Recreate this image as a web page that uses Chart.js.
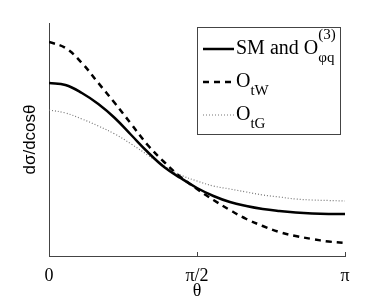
<!DOCTYPE html>
<html>
<head>
<meta charset="utf-8">
<script src="https://cdn.jsdelivr.net/npm/chart.js@4/dist/chart.umd.min.js"></script>
<style>
  body { margin: 0; background: #fff; }
  canvas { display: block; }
</style>
</head>
<body>
<canvas id="chart" width="382" height="302"></canvas>
<script>
// theta in degrees, sampled every 10 deg
var thetaDeg = [0, 10, 20, 30, 40, 50, 60, 70, 80, 90, 100, 110, 120, 130, 140, 150, 160, 170, 180]

// dsigma/dcos(theta), arbitrary units
var smValues  = [17.3, 17.1, 16.3, 15.2, 13.8, 12.1, 10.4, 8.9, 7.8, 6.8, 6.0, 5.4, 5.0, 4.7, 4.5, 4.35, 4.25, 4.2, 4.2]
var otwValues = [21.4, 20.8, 19.3, 17.3, 15.3, 13.2, 11.1, 9.4, 7.9, 6.7, 5.6, 4.6, 3.7, 3.0, 2.4, 2.0, 1.7, 1.45, 1.3]
var otgValues = [14.6, 14.3, 13.7, 13.0, 12.2, 11.2, 10.1, 9.0, 8.1, 7.5, 7.0, 6.7, 6.4, 6.1, 5.9, 5.7, 5.6, 5.55, 5.5]

var tickPos = [0, Math.PI / 2, Math.PI]
var tickLabels = ['0', 'π/2', 'π']

var legendMain = ['SM and O', 'O', 'O']
var legendSup = ['(3)', '', '']
var legendSub = ['φq', 'tW', 'tG']

var serif = '"Liberation Serif", "Times New Roman", serif'
var sans = '"Liberation Sans", Arial, sans-serif'

function pts(vals) {
    return vals.map(function (v, i) { return { x: thetaDeg[i] * Math.PI / 180, y: v } })
}

// legend with sub/superscripts, drawn on the canvas
var boxLegend = {
    id: 'boxLegend',
    afterDraw: function (chart) {
        var ctx = chart.ctx
        var x0 = 197, y0 = 27, w = 143, h = 107
        ctx.save()
        ctx.fillStyle = '#fff'
        ctx.fillRect(x0, y0, w, h)
        ctx.strokeStyle = '#444'
        ctx.lineWidth = 1
        ctx.strokeRect(x0 + 0.5, y0 + 0.5, w, h)
        var rows = [49, 82, 115]
        chart.data.datasets.forEach(function (ds, i) {
            var y = rows[i]
            ctx.strokeStyle = ds.borderColor
            ctx.lineWidth = ds.borderWidth
            ctx.setLineDash(ds.borderDash || [])
            ctx.beginPath()
            ctx.moveTo(203, y)
            ctx.lineTo(234, y)
            ctx.stroke()
            ctx.setLineDash([])

            ctx.fillStyle = '#000'
            ctx.textBaseline = 'alphabetic'
            ctx.font = '20px ' + serif
            var tx = 236
            ctx.fillText(legendMain[i], tx, y + 5)
            var mw = ctx.measureText(legendMain[i]).width
            ctx.font = '15px ' + serif
            if (legendSup[i]) ctx.fillText(legendSup[i], tx + mw, y - 10)
            if (legendSub[i]) ctx.fillText(legendSub[i], tx + mw, y + 13)
        })
        ctx.restore()
    }
}

var ctx = document.getElementById('chart').getContext('2d')
var chart = new Chart(ctx, {
    type: 'line',
    data: {
        datasets: [{
            label: 'SM',
            data: pts(smValues),
            borderColor: '#000',
            borderWidth: 2.5,
            pointRadius: 0,
            tension: 0.4
        }, {
            label: 'OtW',
            data: pts(otwValues),
            borderColor: '#000',
            borderWidth: 2.5,
            borderDash: [6, 5],
            pointRadius: 0,
            tension: 0.4
        }, {
            label: 'OtG',
            data: pts(otgValues),
            borderColor: '#777',
            borderWidth: 1.2,
            borderDash: [1, 2],
            pointRadius: 0,
            tension: 0.4
        }]
    },
    options: {
        responsive: false,
        devicePixelRatio: 1,
        animation: false,
        layout: { padding: { top: 23, right: 37, left: 0, bottom: 0 } },
        plugins: { legend: { display: false }, tooltip: { enabled: false } },
        scales: {
            x: {
                type: 'linear',
                min: 0,
                max: Math.PI,
                afterBuildTicks: function (s) { s.ticks = tickPos.map(function (v) { return { value: v } }) },
                afterFit: function (s) { s.height = 46 },
                ticks: {
                    color: '#000',
                    padding: 13,
                    font: { family: serif, size: 18 },
                    maxRotation: 0,
                    callback: function (v, i) { return tickLabels[i] }
                },
                grid: { drawOnChartArea: false, drawTicks: true, tickLength: -4, color: '#444' },
                border: { color: '#444' },
                title: { display: true, text: 'θ', color: '#000', font: { family: serif, size: 18 }, padding: 0 }
            },
            y: {
                min: 0,
                max: 23.3,
                afterFit: function (s) { s.width = 49 },
                ticks: { display: false },
                grid: { display: false },
                border: { color: '#444' },
                title: { display: true, text: 'dσ/dcosθ', color: '#000', font: { family: sans, size: 17 }, padding: { top: 20 } }
            }
        }
    },
    plugins: [boxLegend]
})
</script>
</body>
</html>
